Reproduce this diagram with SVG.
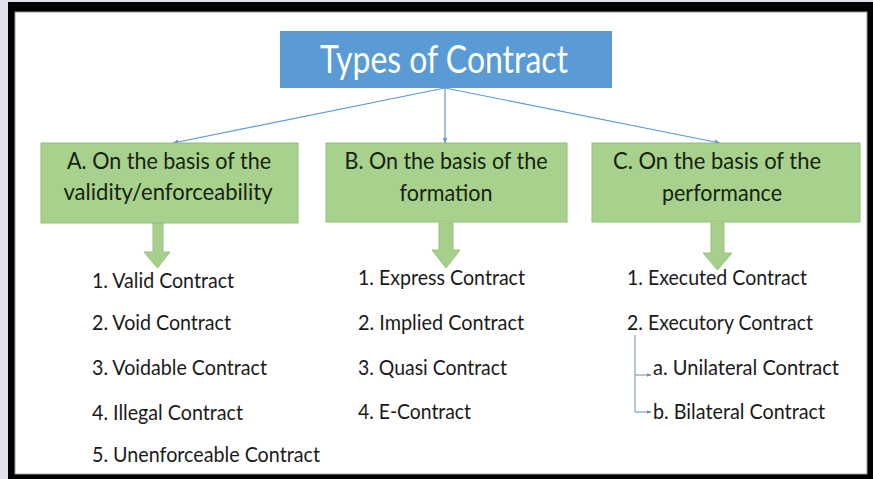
<svg xmlns="http://www.w3.org/2000/svg" width="873" height="479" viewBox="0 0 873 479">
<style>
.hdr{font-family:Lato,"Open Sans",sans-serif;font-size:23px;fill:#17230f;text-anchor:middle}
.item{font-family:Lato,"Open Sans",sans-serif;font-size:21px;fill:#1a1a1a}
.box{fill:#a9d18e;stroke:#93bd77;stroke-width:1}
.conn{stroke:#5b9bd5;stroke-width:1.2;fill:none}
.sub{stroke:#6f8fa8;stroke-width:1;fill:none}
.blk{fill:#a6cf8b;stroke:#98c27c;stroke-width:1}
</style>
<defs>
<marker id="ah" viewBox="0 0 10 10" refX="9" refY="5" markerWidth="6" markerHeight="6" orient="auto" markerUnits="userSpaceOnUse">
<path d="M0,1 L10,5 L0,9 z" fill="#5b9bd5"/>
</marker>
<marker id="ah2" viewBox="0 0 10 10" refX="9" refY="5" markerWidth="5" markerHeight="5" orient="auto" markerUnits="userSpaceOnUse">
<path d="M0,1 L10,5 L0,9 z" fill="#6f8fa8"/>
</marker>
</defs>
<rect x="0" y="0" width="873" height="479" fill="#e4dfec"/>
<rect x="8" y="2" width="865" height="477" fill="#000"/>
<rect x="15" y="12" width="852" height="462" fill="#fff" stroke="#9a9a9a" stroke-width="1"/>

<g id="connectors">
<line class="conn" x1="445" y1="88" x2="173" y2="143" marker-end="url(#ah)"/>
<line class="conn" x1="445" y1="88" x2="445" y2="143" marker-end="url(#ah)"/>
<line class="conn" x1="445" y1="88" x2="720" y2="143" marker-end="url(#ah)"/>
<path class="sub" d="M635,335 V412"/>
<path class="sub" d="M635,375 H651" marker-end="url(#ah2)"/>
<path class="sub" d="M635,412 H651" marker-end="url(#ah2)"/>
<path class="blk" d="M153,223 H163 V252 H170 L157.5,268 L144,252 H153 Z"/>
<path class="blk" d="M439,223 H453 V250 H460 L446,268 L432,250 H439 Z"/>
<path class="blk" d="M711,223 H724 V253 H732 L717.5,270 L703,253 H711 Z"/>
</g>

<g id="title">
<rect x="280" y="31" width="332" height="57" fill="#5b9bd5"/>
<text x="320" y="73" font-family="Lato,'Open Sans',sans-serif" font-size="39" fill="#fff" textLength="248" lengthAdjust="spacingAndGlyphs">Types of Contract</text>
</g>

<g id="nodeA">
<rect class="box" x="41" y="143" width="257" height="80"/>
<text class="hdr" x="169" y="169" textLength="204" lengthAdjust="spacingAndGlyphs">A. On the basis of the</text>
<text class="hdr" x="168" y="200" textLength="209" lengthAdjust="spacingAndGlyphs">validity/enforceability</text>
</g>
<g id="nodeB">
<rect class="box" x="326" y="143" width="241" height="79"/>
<text class="hdr" x="446" y="169" textLength="203" lengthAdjust="spacingAndGlyphs">B. On the basis of the</text>
<text class="hdr" x="446" y="201" textLength="93" lengthAdjust="spacingAndGlyphs">formation</text>
</g>
<g id="nodeC">
<rect class="box" x="592" y="143" width="268" height="79"/>
<text class="hdr" x="717" y="169" textLength="208" lengthAdjust="spacingAndGlyphs">C. On the basis of the</text>
<text class="hdr" x="722" y="201" textLength="120" lengthAdjust="spacingAndGlyphs">performance</text>
</g>

<g id="listA">
<text class="item" x="92" y="288" textLength="142" lengthAdjust="spacingAndGlyphs">1. Valid Contract</text>
<text class="item" x="92" y="330" textLength="139" lengthAdjust="spacingAndGlyphs">2. Void Contract</text>
<text class="item" x="92" y="375" textLength="175" lengthAdjust="spacingAndGlyphs">3. Voidable Contract</text>
<text class="item" x="92" y="420" textLength="151" lengthAdjust="spacingAndGlyphs">4. Illegal Contract</text>
<text class="item" x="92" y="462" textLength="228" lengthAdjust="spacingAndGlyphs">5. Unenforceable Contract</text>
</g>
<g id="listB">
<text class="item" x="358" y="285" textLength="167" lengthAdjust="spacingAndGlyphs">1. Express Contract</text>
<text class="item" x="358" y="330" textLength="166" lengthAdjust="spacingAndGlyphs">2. Implied Contract</text>
<text class="item" x="358" y="375" textLength="149" lengthAdjust="spacingAndGlyphs">3. Quasi Contract</text>
<text class="item" x="358" y="419" textLength="113" lengthAdjust="spacingAndGlyphs">4. E-Contract</text>
</g>
<g id="listC">
<text class="item" x="627" y="285" textLength="180" lengthAdjust="spacingAndGlyphs">1. Executed Contract</text>
<text class="item" x="627" y="330" textLength="186" lengthAdjust="spacingAndGlyphs">2. Executory Contract</text>
<text class="item" x="653" y="375" textLength="186" lengthAdjust="spacingAndGlyphs">a. Unilateral Contract</text>
<text class="item" x="653" y="419" textLength="172" lengthAdjust="spacingAndGlyphs">b. Bilateral Contract</text>
</g>
</svg>
